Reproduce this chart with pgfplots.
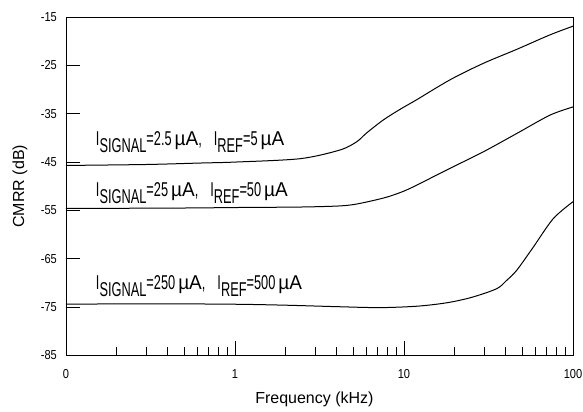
\documentclass[border=0pt]{standalone}
\usepackage{pgfplots}
\pgfplotsset{compat=1.18}
\usepackage{fontspec}
\setmainfont{Liberation Sans}
\newfontfamily\condfont[FakeStretch=0.64]{Liberation Sans}
\newfontfamily\mufont[FakeStretch=0.95]{Liberation Sans}
\newfontfamily\tickfont[FakeStretch=0.85]{Liberation Sans}
\newcommand\sub[1]{\raisebox{-7bp}{#1}}
\newcommand\lbl[3]{{\condfont\fontsize{20bp}{20bp}\selectfont I\sub{SIGNAL}=#1\hspace{3bp}{\mufont µA},\hspace{12bp}I\sub{REF}=#2\hspace{3bp}{\mufont µA}}}
\begin{document}
\begin{tikzpicture}
\begin{axis}[
  at={(66bp,56.5bp)}, anchor=south west,
  scale only axis, width=507bp, height=338.5bp,
  xmode=log, xmin=0.1, xmax=100, ymin=-85, ymax=-15,
  xtick={0.1,1,10,100}, xticklabels={0,1,10,100},
  minor xtick={0.2,0.3,0.4,0.5,0.6,0.7,0.8,0.9,2,3,4,5,6,7,8,9,20,30,40,50,60,70,80,90},
  ytick={-85,-75,-65,-55,-45,-35,-25,-15},
  yticklabels={-85,-75,-65,-55,-45,-35,-25,-15},
  tick align=inside, xtick pos=bottom, ytick pos=left,
  major tick length=14bp, minor tick length=8bp,
  every tick/.style={black, line width=0.9bp},
  axis line style={line width=0.9bp},
  /pgf/number format/assume math mode=true,
  yticklabel style={font=\tickfont\fontsize{13bp}{13bp}\selectfont, anchor=east, inner sep=0pt, xshift=-9bp},
  xticklabel style={font=\tickfont\fontsize{13bp}{13bp}\selectfont, anchor=north, inner sep=0pt, yshift=-14bp},
  xlabel={Frequency (kHz)}, ylabel={CMRR (dB)},
  xlabel style={font=\fontsize{16bp}{16bp}\selectfont, at={(axis description cs:0.49,0)}, anchor=base, inner sep=0pt, yshift=-48.2bp},
  ylabel style={font=\fontsize{16bp}{16bp}\selectfont, at={(axis description cs:-0.0907,0.5)}, anchor=center, inner sep=0pt},
  clip=false,
]
\addplot[black, line width=1bp, smooth] coordinates {
(0.1,-45.7) (0.3,-45.5) (0.62,-45.2) (1,-45.0) (2.43,-44.3) (4.18,-42.5) (5.25,-40.8) (6.0,-39.0) (7.54,-36.3) (9.47,-34.1) (11.9,-32.1) (18.7,-28.0) (29.4,-24.6) (46.4,-21.7) (73,-18.7) (100,-16.9)};
\addplot[black, line width=1bp, smooth] coordinates {
(0.1,-54.6) (0.5,-54.5) (1,-54.4) (2.4,-54.3) (4,-54.1) (5,-53.8) (6.3,-53.1) (8,-52.2) (10,-51.0) (12,-49.7) (18.7,-46.3) (29.4,-42.9) (46.4,-39.1) (73,-35.3) (100,-33.6)};
\addplot[black, line width=1bp, smooth] coordinates {
(0.1,-74.4) (0.3,-74.3) (1,-74.4) (2,-74.6) (4,-74.9) (7.2,-75.1) (12,-74.8) (17.9,-74.1) (25,-73.0) (35.3,-71.2) (40.4,-69.5) (46.4,-67.4) (58.2,-62.6) (76.4,-56.7) (100,-53.2)};
\node[anchor=base west, inner sep=0pt] at (axis cs:0.15,-41.5) {\lbl{2.5}{5}{}};
\node[anchor=base west, inner sep=0pt] at (axis cs:0.15,-52.2) {\lbl{25}{50}{}};
\node[anchor=base west, inner sep=0pt] at (axis cs:0.15,-71.4) {\lbl{250}{500}{}};
\end{axis}
\pgfresetboundingbox
\path[use as bounding box] (0,0) rectangle (583bp,412bp);
\end{tikzpicture}
\end{document}
